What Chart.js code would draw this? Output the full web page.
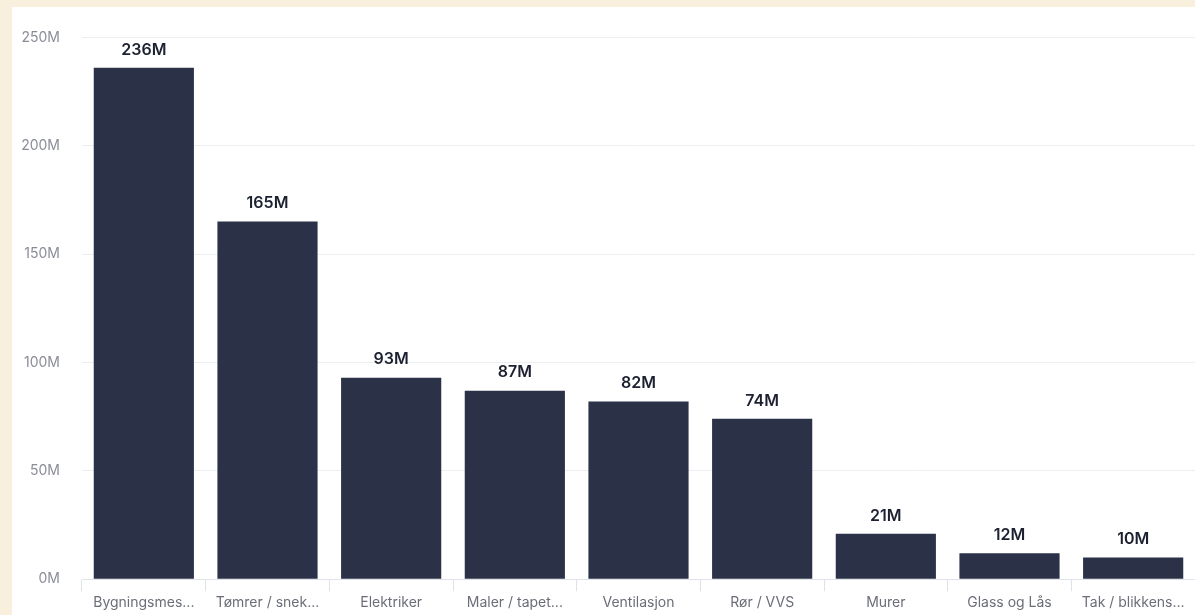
<!DOCTYPE html>
<html>
<head>
<meta charset="utf-8">
<script src="https://cdn.jsdelivr.net/npm/chart.js@4.4.0/dist/chart.umd.min.js"></script>
<style>
  html, body { margin: 0; padding: 0; background: #f8efdd; }
  #panel { position: absolute; left: 12px; top: 7px; width: 1183px; height: 608px; background: #ffffff; }
  #chart { display: block; }
</style>
</head>
<body>
<div id="panel"><canvas id="chart" width="1183" height="608"></canvas></div>
<script>
const categories = ["Bygningsmes...", "Tømrer / snek...", "Elektriker", "Maler / tapet...", "Ventilasjon", "Rør / VVS", "Murer", "Glass og Lås", "Tak / blikkens..."];
const values = [236, 165, 93, 87, 82, 74, 21, 12, 10];   // millioner
const yTicks = [0, 50, 100, 150, 200, 250];

// enkel etikett over hver stolpe
const valueLabels = {
    id: "valueLabels",
    afterDatasetsDraw(chart) {
        const ctx = chart.ctx;
        const meta = chart.getDatasetMeta(0);
        ctx.save();
        ctx.font = "600 16px Inter, sans-serif";
        ctx.fillStyle = "#1d2030";
        ctx.textAlign = "center";
        ctx.textBaseline = "bottom";
        meta.data.forEach(function (bar, i) {
            ctx.fillText(values[i] + "M", bar.x, bar.y - 10);
        });
        ctx.restore();
    }
};

document.addEventListener("DOMContentLoaded", function () {
    const ctx = document.getElementById("chart");
    new Chart(ctx, {
        type: "bar",
        data: {
            labels: categories,
            datasets: [{
                data: values,
                backgroundColor: "#2b3248",
                borderWidth: 0,
                barPercentage: 0.81,
                categoryPercentage: 1.0,
            }],
        },
        options: {
            responsive: false,
            animation: false,
            layout: { padding: { top: 25, right: 0, left: 0, bottom: 1 } },
            plugins: { legend: { display: false }, tooltip: { enabled: false } },
            scales: {
                x: {
                    grid: { offset: true, drawOnChartArea: false, tickLength: 12, color: "#dfe2ea" },
                    border: { color: "#dfe2ea" },
                    ticks: { color: "#6b6e78", font: { size: 14, family: "Inter, sans-serif" }, maxRotation: 0, autoSkip: false, padding: 3 },
                },
                y: {
                    min: yTicks[0],
                    max: yTicks[yTicks.length - 1],
                    afterBuildTicks: function (axis) { axis.ticks = yTicks.map(v => ({ value: v })); },
                    afterFit: function (axis) { axis.width = 70; },
                    grid: { color: "#eceef2", drawTicks: false },
                    border: { display: false },
                    ticks: {
                        color: "#8a8d96",
                        padding: 22,
                        font: { size: 14, family: "Inter, sans-serif" },
                        callback: function (v) { return v + "M"; },
                    },
                },
            },
        },
        plugins: [valueLabels],
    });
});
</script>
</body>
</html>
